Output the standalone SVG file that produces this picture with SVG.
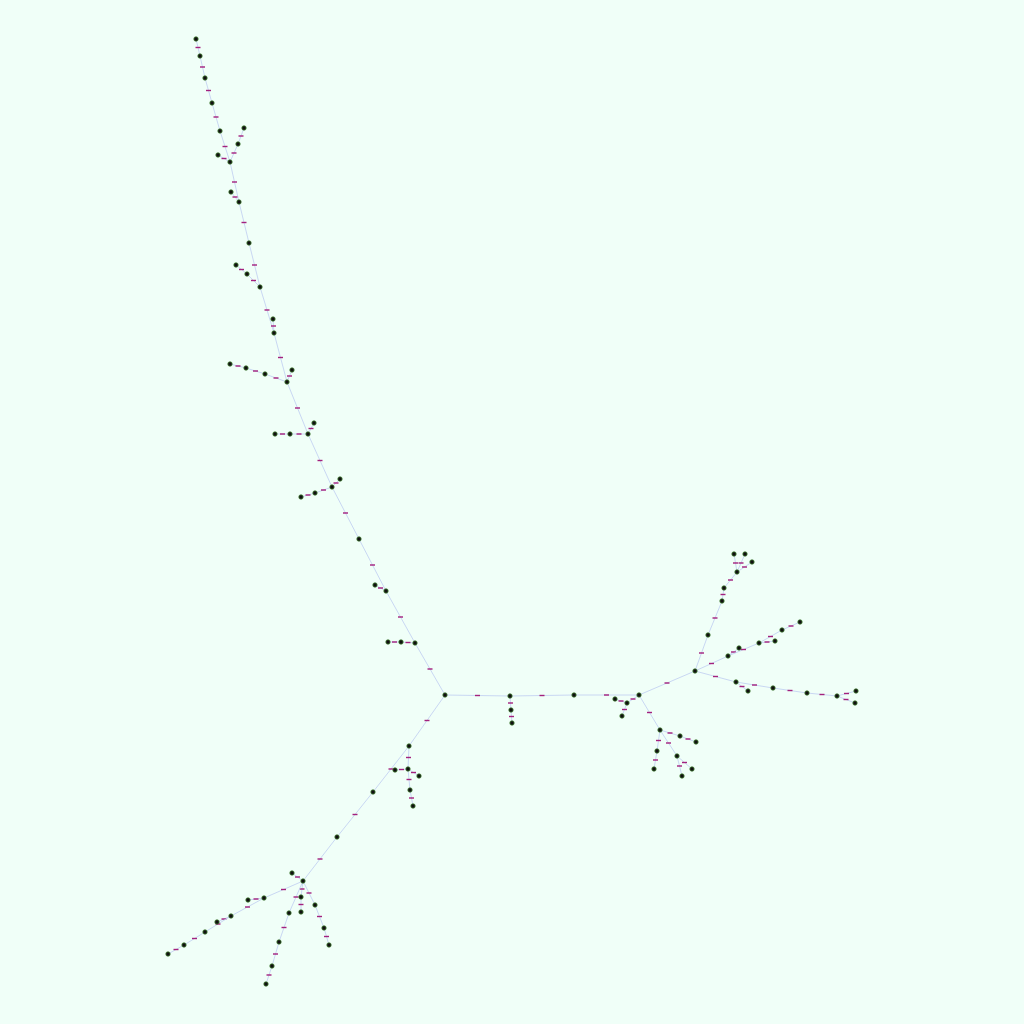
<svg xmlns="http://www.w3.org/2000/svg" width="1024" height="1024" viewBox="0 0 1024 1024">
<style>
.e{fill:none;stroke:#c4d2f2;stroke-width:0.9;marker-mid:url(#lbl)}
.nd{fill:#111;stroke:#3f7a2e;stroke-width:0.8}
</style>
<defs>
<marker id="lbl" markerUnits="userSpaceOnUse" markerWidth="6" markerHeight="3" refX="2.5" refY="0.7" orient="0" overflow="visible"><rect x="0" y="0" width="5" height="1.4" fill="#a3227e"/></marker>
</defs>
<rect width="1024" height="1024" fill="#f0fff8"/>
<g id="connectors">
<path class="e" d="M445,695L430,669L415,643"/>
<path class="e" d="M415,643L400.5,617L386,591"/>
<path class="e" d="M386,591L372.5,565L359,539"/>
<path class="e" d="M359,539L345.5,513L332,487"/>
<path class="e" d="M332,487L320,460.5L308,434"/>
<path class="e" d="M308,434L297.5,408L287,382"/>
<path class="e" d="M287,382L280.5,357.5L274,333"/>
<path class="e" d="M274,333L267,310L260,287"/>
<path class="e" d="M260,287L254.5,265L249,243"/>
<path class="e" d="M249,243L244,222.5L239,202"/>
<path class="e" d="M239,202L234.5,182L230,162"/>
<path class="e" d="M230,162L225,146.5L220,131"/>
<path class="e" d="M220,131L216,117L212,103"/>
<path class="e" d="M212,103L208.5,90.5L205,78"/>
<path class="e" d="M205,78L202.5,67L200,56"/>
<path class="e" d="M200,56L198,47.5L196,39"/>
<path class="e" d="M239,202L235,197L231,192"/>
<path class="e" d="M274,333L273.5,326L273,319"/>
<path class="e" d="M260,287L253.5,280.5L247,274"/>
<path class="e" d="M247,274L241.5,269.5L236,265"/>
<path class="e" d="M230,162L224,158.5L218,155"/>
<path class="e" d="M230,162L234,153L238,144"/>
<path class="e" d="M238,144L241,136L244,128"/>
<path class="e" d="M287,382L276,378L265,374"/>
<path class="e" d="M265,374L255.5,371L246,368"/>
<path class="e" d="M246,368L238,366L230,364"/>
<path class="e" d="M287,382L289.5,376L292,370"/>
<path class="e" d="M308,434L299,434L290,434"/>
<path class="e" d="M290,434L282.5,434L275,434"/>
<path class="e" d="M308,434L311,428.5L314,423"/>
<path class="e" d="M332,487L323.5,490L315,493"/>
<path class="e" d="M315,493L308,495L301,497"/>
<path class="e" d="M332,487L336,483L340,479"/>
<path class="e" d="M386,591L380.5,588L375,585"/>
<path class="e" d="M415,643L408,642.5L401,642"/>
<path class="e" d="M401,642L394.5,642L388,642"/>
<path class="e" d="M445,695L477.5,695.5L510,696"/>
<path class="e" d="M510,696L510.5,703L511,710"/>
<path class="e" d="M511,710L511.5,716.5L512,723"/>
<path class="e" d="M510,696L542,695.5L574,695"/>
<path class="e" d="M574,695L606.5,695L639,695"/>
<path class="e" d="M639,695L633,699L627,703"/>
<path class="e" d="M627,703L621,701L615,699"/>
<path class="e" d="M627,703L624.5,709.5L622,716"/>
<path class="e" d="M639,695L649.5,712.5L660,730"/>
<path class="e" d="M660,730L670,733L680,736"/>
<path class="e" d="M680,736L688,739L696,742"/>
<path class="e" d="M660,730L658.5,740.5L657,751"/>
<path class="e" d="M657,751L655.5,760L654,769"/>
<path class="e" d="M660,730L668.5,743L677,756"/>
<path class="e" d="M677,756L684.5,762.5L692,769"/>
<path class="e" d="M677,756L679.5,766L682,776"/>
<path class="e" d="M639,695L667,683L695,671"/>
<path class="e" d="M695,671L701.5,653L708,635"/>
<path class="e" d="M708,635L715,618L722,601"/>
<path class="e" d="M722,601L723,594.5L724,588"/>
<path class="e" d="M724,588L730.5,580L737,572"/>
<path class="e" d="M737,572L735.5,563L734,554"/>
<path class="e" d="M737,572L741,563L745,554"/>
<path class="e" d="M737,572L744.5,567L752,562"/>
<path class="e" d="M695,671L711.5,663.5L728,656"/>
<path class="e" d="M728,656L733.5,652L739,648"/>
<path class="e" d="M728,656L743.5,649.5L759,643"/>
<path class="e" d="M759,643L767,642L775,641"/>
<path class="e" d="M759,643L770.5,636.5L782,630"/>
<path class="e" d="M782,630L791,626L800,622"/>
<path class="e" d="M695,671L715.5,676.5L736,682"/>
<path class="e" d="M736,682L742,686.5L748,691"/>
<path class="e" d="M736,682L754.5,685L773,688"/>
<path class="e" d="M773,688L790,690.5L807,693"/>
<path class="e" d="M807,693L822,694.5L837,696"/>
<path class="e" d="M837,696L846.5,693.5L856,691"/>
<path class="e" d="M837,696L846,699.5L855,703"/>
<path class="e" d="M445,695L427,720.5L409,746"/>
<path class="e" d="M409,746L408.5,757.5L408,769"/>
<path class="e" d="M408,769L401.5,769.5L395,770"/>
<path class="e" d="M408,769L413.5,772.5L419,776"/>
<path class="e" d="M408,769L409,779.5L410,790"/>
<path class="e" d="M410,790L411.5,798L413,806"/>
<path class="e" d="M409,746L391,769L373,792"/>
<path class="e" d="M373,792L355,814.5L337,837"/>
<path class="e" d="M337,837L320,859L303,881"/>
<path class="e" d="M303,881L297.5,877L292,873"/>
<path class="e" d="M303,881L302,889L301,897"/>
<path class="e" d="M301,897L301,904.5L301,912"/>
<path class="e" d="M303,881L309,893L315,905"/>
<path class="e" d="M315,905L319.5,916.5L324,928"/>
<path class="e" d="M324,928L326.5,936.5L329,945"/>
<path class="e" d="M303,881L296,897L289,913"/>
<path class="e" d="M289,913L284,927.5L279,942"/>
<path class="e" d="M279,942L275.5,954L272,966"/>
<path class="e" d="M272,966L269,975L266,984"/>
<path class="e" d="M303,881L283.5,889.5L264,898"/>
<path class="e" d="M264,898L256,899L248,900"/>
<path class="e" d="M264,898L247.5,907L231,916"/>
<path class="e" d="M231,916L224,919L217,922"/>
<path class="e" d="M231,916L218,924L205,932"/>
<path class="e" d="M205,932L194.5,938.5L184,945"/>
<path class="e" d="M184,945L176,949.5L168,954"/>
</g>
<g id="nodes">
<g id="n0"><circle class="nd" cx="445" cy="695" r="2.2"/></g>
<g id="n1"><circle class="nd" cx="415" cy="643" r="2.2"/></g>
<g id="n2"><circle class="nd" cx="386" cy="591" r="2.2"/></g>
<g id="n3"><circle class="nd" cx="359" cy="539" r="2.2"/></g>
<g id="n4"><circle class="nd" cx="332" cy="487" r="2.2"/></g>
<g id="n5"><circle class="nd" cx="308" cy="434" r="2.2"/></g>
<g id="n6"><circle class="nd" cx="287" cy="382" r="2.2"/></g>
<g id="n7"><circle class="nd" cx="274" cy="333" r="2.2"/></g>
<g id="n8"><circle class="nd" cx="260" cy="287" r="2.2"/></g>
<g id="n9"><circle class="nd" cx="249" cy="243" r="2.2"/></g>
<g id="n10"><circle class="nd" cx="239" cy="202" r="2.2"/></g>
<g id="n11"><circle class="nd" cx="230" cy="162" r="2.2"/></g>
<g id="n12"><circle class="nd" cx="220" cy="131" r="2.2"/></g>
<g id="n13"><circle class="nd" cx="212" cy="103" r="2.2"/></g>
<g id="n14"><circle class="nd" cx="205" cy="78" r="2.2"/></g>
<g id="n15"><circle class="nd" cx="200" cy="56" r="2.2"/></g>
<g id="n16"><circle class="nd" cx="196" cy="39" r="2.2"/></g>
<g id="n17"><circle class="nd" cx="231" cy="192" r="2.2"/></g>
<g id="n18"><circle class="nd" cx="273" cy="319" r="2.2"/></g>
<g id="n19"><circle class="nd" cx="247" cy="274" r="2.2"/></g>
<g id="n20"><circle class="nd" cx="236" cy="265" r="2.2"/></g>
<g id="n21"><circle class="nd" cx="218" cy="155" r="2.2"/></g>
<g id="n22"><circle class="nd" cx="238" cy="144" r="2.2"/></g>
<g id="n23"><circle class="nd" cx="244" cy="128" r="2.2"/></g>
<g id="n24"><circle class="nd" cx="265" cy="374" r="2.2"/></g>
<g id="n25"><circle class="nd" cx="246" cy="368" r="2.2"/></g>
<g id="n26"><circle class="nd" cx="230" cy="364" r="2.2"/></g>
<g id="n27"><circle class="nd" cx="292" cy="370" r="2.2"/></g>
<g id="n28"><circle class="nd" cx="290" cy="434" r="2.2"/></g>
<g id="n29"><circle class="nd" cx="275" cy="434" r="2.2"/></g>
<g id="n30"><circle class="nd" cx="314" cy="423" r="2.2"/></g>
<g id="n31"><circle class="nd" cx="315" cy="493" r="2.2"/></g>
<g id="n32"><circle class="nd" cx="301" cy="497" r="2.2"/></g>
<g id="n33"><circle class="nd" cx="340" cy="479" r="2.2"/></g>
<g id="n34"><circle class="nd" cx="375" cy="585" r="2.2"/></g>
<g id="n35"><circle class="nd" cx="401" cy="642" r="2.2"/></g>
<g id="n36"><circle class="nd" cx="388" cy="642" r="2.2"/></g>
<g id="n37"><circle class="nd" cx="510" cy="696" r="2.2"/></g>
<g id="n38"><circle class="nd" cx="511" cy="710" r="2.2"/></g>
<g id="n39"><circle class="nd" cx="512" cy="723" r="2.2"/></g>
<g id="n40"><circle class="nd" cx="574" cy="695" r="2.2"/></g>
<g id="n41"><circle class="nd" cx="639" cy="695" r="2.2"/></g>
<g id="n42"><circle class="nd" cx="627" cy="703" r="2.2"/></g>
<g id="n43"><circle class="nd" cx="615" cy="699" r="2.2"/></g>
<g id="n44"><circle class="nd" cx="622" cy="716" r="2.2"/></g>
<g id="n45"><circle class="nd" cx="660" cy="730" r="2.2"/></g>
<g id="n46"><circle class="nd" cx="680" cy="736" r="2.2"/></g>
<g id="n47"><circle class="nd" cx="696" cy="742" r="2.2"/></g>
<g id="n48"><circle class="nd" cx="657" cy="751" r="2.2"/></g>
<g id="n49"><circle class="nd" cx="654" cy="769" r="2.2"/></g>
<g id="n50"><circle class="nd" cx="677" cy="756" r="2.2"/></g>
<g id="n51"><circle class="nd" cx="692" cy="769" r="2.2"/></g>
<g id="n52"><circle class="nd" cx="682" cy="776" r="2.2"/></g>
<g id="n53"><circle class="nd" cx="695" cy="671" r="2.2"/></g>
<g id="n54"><circle class="nd" cx="708" cy="635" r="2.2"/></g>
<g id="n55"><circle class="nd" cx="722" cy="601" r="2.2"/></g>
<g id="n56"><circle class="nd" cx="724" cy="588" r="2.2"/></g>
<g id="n57"><circle class="nd" cx="737" cy="572" r="2.2"/></g>
<g id="n58"><circle class="nd" cx="734" cy="554" r="2.2"/></g>
<g id="n59"><circle class="nd" cx="745" cy="554" r="2.2"/></g>
<g id="n60"><circle class="nd" cx="752" cy="562" r="2.2"/></g>
<g id="n61"><circle class="nd" cx="728" cy="656" r="2.2"/></g>
<g id="n62"><circle class="nd" cx="739" cy="648" r="2.2"/></g>
<g id="n63"><circle class="nd" cx="759" cy="643" r="2.2"/></g>
<g id="n64"><circle class="nd" cx="775" cy="641" r="2.2"/></g>
<g id="n65"><circle class="nd" cx="782" cy="630" r="2.2"/></g>
<g id="n66"><circle class="nd" cx="800" cy="622" r="2.2"/></g>
<g id="n67"><circle class="nd" cx="736" cy="682" r="2.2"/></g>
<g id="n68"><circle class="nd" cx="748" cy="691" r="2.2"/></g>
<g id="n69"><circle class="nd" cx="773" cy="688" r="2.2"/></g>
<g id="n70"><circle class="nd" cx="807" cy="693" r="2.2"/></g>
<g id="n71"><circle class="nd" cx="837" cy="696" r="2.2"/></g>
<g id="n72"><circle class="nd" cx="856" cy="691" r="2.2"/></g>
<g id="n73"><circle class="nd" cx="855" cy="703" r="2.2"/></g>
<g id="n74"><circle class="nd" cx="409" cy="746" r="2.2"/></g>
<g id="n75"><circle class="nd" cx="408" cy="769" r="2.2"/></g>
<g id="n76"><circle class="nd" cx="395" cy="770" r="2.2"/></g>
<g id="n77"><circle class="nd" cx="419" cy="776" r="2.2"/></g>
<g id="n78"><circle class="nd" cx="410" cy="790" r="2.2"/></g>
<g id="n79"><circle class="nd" cx="413" cy="806" r="2.2"/></g>
<g id="n80"><circle class="nd" cx="373" cy="792" r="2.2"/></g>
<g id="n81"><circle class="nd" cx="337" cy="837" r="2.2"/></g>
<g id="n82"><circle class="nd" cx="303" cy="881" r="2.2"/></g>
<g id="n83"><circle class="nd" cx="292" cy="873" r="2.2"/></g>
<g id="n84"><circle class="nd" cx="301" cy="897" r="2.2"/></g>
<g id="n85"><circle class="nd" cx="301" cy="912" r="2.2"/></g>
<g id="n86"><circle class="nd" cx="315" cy="905" r="2.2"/></g>
<g id="n87"><circle class="nd" cx="324" cy="928" r="2.2"/></g>
<g id="n88"><circle class="nd" cx="329" cy="945" r="2.2"/></g>
<g id="n89"><circle class="nd" cx="289" cy="913" r="2.2"/></g>
<g id="n90"><circle class="nd" cx="279" cy="942" r="2.2"/></g>
<g id="n91"><circle class="nd" cx="272" cy="966" r="2.2"/></g>
<g id="n92"><circle class="nd" cx="266" cy="984" r="2.2"/></g>
<g id="n93"><circle class="nd" cx="264" cy="898" r="2.2"/></g>
<g id="n94"><circle class="nd" cx="248" cy="900" r="2.2"/></g>
<g id="n95"><circle class="nd" cx="231" cy="916" r="2.2"/></g>
<g id="n96"><circle class="nd" cx="217" cy="922" r="2.2"/></g>
<g id="n97"><circle class="nd" cx="205" cy="932" r="2.2"/></g>
<g id="n98"><circle class="nd" cx="184" cy="945" r="2.2"/></g>
<g id="n99"><circle class="nd" cx="168" cy="954" r="2.2"/></g>
</g>
</svg>
